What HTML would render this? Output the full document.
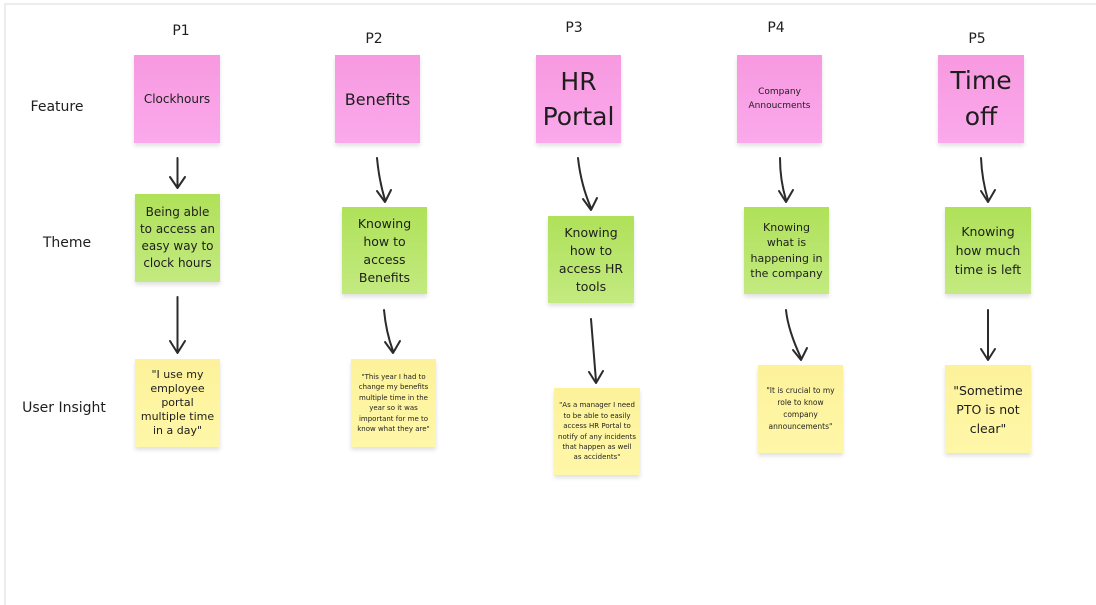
<!DOCTYPE html>
<html><head><meta charset="utf-8"><style>
html,body{margin:0;padding:0;background:#fff}
body{width:1096px;height:523px;position:relative;overflow:hidden;font-family:"DejaVu Sans","Liberation Sans",sans-serif;color:#1e1e1e}
.frame{position:absolute;left:4px;top:3px;width:1200px;height:600px;border-left:2px solid #ececec;border-top:2px solid #ececec}
.lbl{position:absolute;font-size:14px;white-space:nowrap;transform:translate(-50%,-50%)}
.n{position:absolute;display:flex;align-items:center;justify-content:center;text-align:center;box-shadow:0 3px 4px rgba(0,0,0,.12);box-sizing:border-box;padding:2px 4px}
.pk{background:linear-gradient(#f799e0,#fba9ec)}
.gr{background:linear-gradient(#afe159,#c3ea80)}
.yl{background:linear-gradient(#fdf29a,#fef7a8)}
svg{position:absolute;left:0;top:0}
</style></head><body>
<div class="frame"></div>
<div class="lbl" style="left:181px;top:31px">P1</div>
<div class="lbl" style="left:374px;top:39px">P2</div>
<div class="lbl" style="left:574px;top:28px">P3</div>
<div class="lbl" style="left:776px;top:28px">P4</div>
<div class="lbl" style="left:977px;top:39px">P5</div>
<div class="lbl" style="left:57px;top:107px">Feature</div>
<div class="lbl" style="left:67px;top:243px">Theme</div>
<div class="lbl" style="left:64px;top:408px">User Insight</div>

<div class="n pk" style="left:134px;top:55px;width:86px;height:88px;font-size:12px">Clockhours</div>
<div class="n pk" style="left:335px;top:55px;width:85px;height:88px;font-size:16px">Benefits</div>
<div class="n pk" style="left:536px;top:55px;width:85px;height:88px;font-size:25px;line-height:35px">HR<br>Portal</div>
<div class="n pk" style="left:737px;top:55px;width:85px;height:88px;font-size:9px;line-height:14px">Company<br>Annoucments</div>
<div class="n pk" style="left:938px;top:55px;width:86px;height:88px;font-size:25px;line-height:36px">Time<br>off</div>

<div class="n gr" style="left:135px;top:194px;width:85px;height:88px;font-size:12px;line-height:17px">Being able to access an easy way to clock hours</div>
<div class="n gr" style="left:342px;top:207px;width:85px;height:87px;font-size:12.5px;line-height:18px">Knowing<br>how to<br>access<br>Benefits</div>
<div class="n gr" style="left:548px;top:216px;width:86px;height:87px;font-size:12.5px;line-height:18px">Knowing<br>how to<br>access HR<br>tools</div>
<div class="n gr" style="left:744px;top:207px;width:85px;height:87px;font-size:11px;line-height:15.5px">Knowing<br>what is<br>happening in<br>the company</div>
<div class="n gr" style="left:945px;top:207px;width:86px;height:87px;font-size:12.5px;line-height:19px">Knowing<br>how much<br>time is left</div>

<div class="n yl" style="left:135px;top:359px;width:85px;height:88px;font-size:11px;line-height:14px">"I use my employee portal multiple time in a day"</div>
<div class="n yl" style="left:351px;top:359px;width:85px;height:88px;font-size:7px;line-height:10.5px">"This year I had to change my benefits multiple time in the year so it was important for me to know what they are"</div>
<div class="n yl" style="left:554px;top:388px;width:86px;height:87px;font-size:7px;line-height:10.4px">"As a manager I need to be able to easily access HR Portal to notify of any incidents that happen as well as accidents"</div>
<div class="n yl" style="left:758px;top:365px;width:85px;height:88px;font-size:7.5px;line-height:12px">"It is crucial to my role to know company announcements"</div>
<div class="n yl" style="left:945px;top:365px;width:86px;height:88px;font-size:12.5px;line-height:19px">"Sometime PTO is not clear"</div>

<svg width="1096" height="523" viewBox="0 0 1096 523" fill="none" stroke="#2b2b2b" stroke-width="2" stroke-linecap="round" stroke-linejoin="round">
<defs><marker id="a" viewBox="0 0 10 10" refX="5" refY="8" markerWidth="8" markerHeight="8" orient="auto-start-reverse" markerUnits="userSpaceOnUse"><path d="M0,2 L5,9 L10,2" stroke="#2b2b2b" stroke-width="2.6" fill="none"/></marker></defs>
<g>
<path d="M177.5 158 L177.5 186"/><path d="M170 177 L177.5 188 L185 177"/>
<path d="M177.5 297 L177.5 351"/><path d="M170 341 L177.5 353 L185 341"/>
<path d="M377 158 Q379 180 385 200"/><path d="M377 191 L385 202 L391 190"/>
<path d="M384 310 Q386 332 393 351"/><path d="M385 342 L393 353 L400 341"/>
<path d="M578 158 Q581 185 591 208"/><path d="M583 199 L591 210 L597 198"/>
<path d="M591 319 L596 381"/><path d="M589 372 L596 383 L603 371"/>
<path d="M780 158 Q780 180 786 200"/><path d="M779 191 L786 202 L793 190"/>
<path d="M786 310 Q788 330 801 358"/><path d="M793 350 L801 360 L807 348"/>
<path d="M981 158 Q982 180 988 200"/><path d="M981 191 L988 202 L995 190"/>
<path d="M988 310 L988 358"/><path d="M981 349 L988 360 L995 349"/>
</g>
</svg>
</body></html>
